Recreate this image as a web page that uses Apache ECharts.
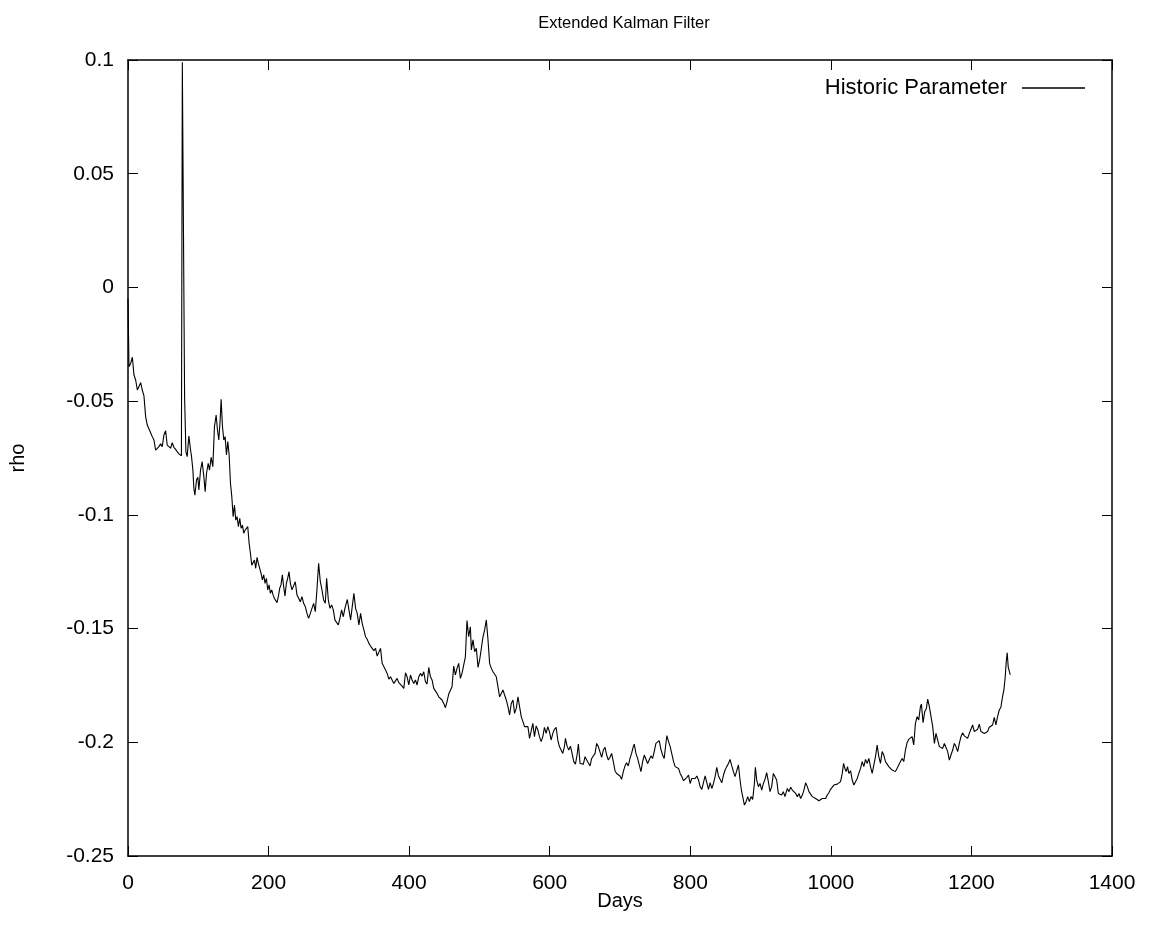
<!DOCTYPE html>
<html>
<head>
<meta charset="utf-8">
<script src="https://cdn.jsdelivr.net/npm/echarts@6/dist/echarts.min.js"></script>
<style>html,body{margin:0;padding:0;background:#fff;}#c{width:1149px;height:942px;}</style>
</head>
<body>
<div id="c"></div>
<script>
const TITLE = 'Extended Kalman Filter';
const X_NAME = 'Days';
const Y_NAME = 'rho';
const SERIES_NAME = 'Historic Parameter';
const X_TICKS = [0, 200, 400, 600, 800, 1000, 1200, 1400];
const Y_TICKS = [-0.25, -0.2, -0.15, -0.1, -0.05, 0, 0.05, 0.1];

const DAYS = [
0,1.4,3.8,6.2,8.5,10.9,13.3,15.6,18,20.3,22.7,25.1,27.4,29.8,32.2,34.5,36.9,39.3,41.6,44,46.4,48.7,51.1,53.5,55.8,58.2,60.6,62.9,65.3,67.7,70,72.4,74.8,76,77.3,80.5,82.4,84.2,86.6,89,90.4,92.3,93.7,95.1,97.5,99.4,100.8,103.2,105.5,107.9,109.8,111.7,114.1,116,118.3,120.7,123,125.4,127.3,129.2,131.1,132.5,134.4,136.3,138.2,140.1,142,143.9,145.8,147.7,149.6,151.5,153.3,155.2,157.1,159,160.9,162.8,164.7,166.6,168.5,170.4,172.3,174.2,176.1,178,179.9,181.7,183.6,185.5,187.4,189.3,191.2,193.1,195,196.9,198.8,200.7,202.6,204.5,206.4,208.2,210.1,212,213.9,215.8,217.7,219.6,221.5,223.4,225.3,227.2,229.1,231,233.3,235.7,238,240.4,242.8,245.2,247.5,249.9,252.3,254.6,257,259.4,261.7,264.1,266.5,268.8,271.2,273.6,276,278.3,280.7,
282.6,285,287.3,289.7,292.1,294.4,296.8,299.2,301.5,303.9,306.3,308.6,312,314.3,316.7,319.1,321.4,323.8,326.1,328.5,330.9,333.2,335.6,338,340.3,342.7,345.1,347.4,349.8,352.2,354.5,356.9,359.3,361.6,364,366.4,368.7,371.1,373.5,375.8,378.2,380.6,382.9,385.3,387.7,390,392.4,394.8,397.1,399.5,401.9,404.2,406.6,409,411.3,413.7,416.1,418.4,420.8,423.2,425.5,427.9,430.3,432.6,435,437.4,439.7,442.1,444.5,446.8,449.2,451.6,453.9,456.3,458.7,461,463.4,465.8,468.1,470.5,472.9,475.2,477.6,480,482.3,484.7,487.1,488.5,490.9,493.2,495.6,498,500.3,502.7,505.1,507.4,509.8,512.2,514.5,516.9,519.3,521.6,524,526.4,528.7,531.1,533.5,535.8,538.2,540.6,542.9,545.3,547.7,550,552.4,554.8,557.1,559.5,561.9,564.2,566.6,569,571.3,573.7,
576,578.3,580.7,583.1,585.4,587.8,590.2,592.5,594.9,597.3,599.6,602,604.4,606.7,609.1,611.5,613.8,616.2,618.6,620.9,622.4,624.7,627.1,629.5,631.8,634.2,636.6,638.9,640.8,643.2,645.5,647.9,650.3,652.6,655,657.4,659.7,662.1,664.5,666.8,669.2,671.6,673.9,676.3,678.7,681,683.4,685.8,688.1,690.5,692.9,695.2,697.6,700,702.3,704.7,707.1,709.4,711.8,714.2,716.5,718.9,720.3,722.7,725.1,727.4,729.8,732.2,734.5,736.9,739.3,741.6,744,746.4,748.7,751.1,753.5,755.8,758.2,760.6,762.9,765.3,766.7,769.1,771.4,773.8,776.2,778.5,780.9,783.3,785.6,788,790.4,792.7,795.1,797.5,799.8,802.2,804.6,806.9,809.3,811.7,814,816.4,818.8,821.1,823.5,825.9,828.2,830.6,833,835.3,837.7,840.1,842.4,844.8,847.2,849.5,851.9,854.3,856.6,859,861.4,863.7,866.1,868.5,870.8,872.7,874.6,877,879.4,881.7,884.1,886.5,888.8,891.2,892.6,894.5,896.9,899.2,901.6,904,906.3,908.7,911.1,913.4,915.8,918.2,920.5,922.9,925.3,927.6,930,932.4,934.7,
938.1,940.4,942.8,945.2,947.5,949.9,952.3,954.6,957,959.4,961.7,964.1,966.5,968.8,971.2,973.6,975.9,978.3,980.7,983,985.4,987.8,990.1,992.5,994.9,997.2,999.6,1002,1004.3,1006.7,1009.1,1011.4,1013.8,1016.2,1018.1,1020,1021.8,1023.7,1025.6,1028,1030.4,1032.7,1035.1,1037.5,1039.8,1042.2,1044.6,1046.9,1049.3,1051.7,1054,1056.4,1058.8,1061.1,1063.5,1065.9,1068.2,1070.6,1073,1075.3,1077.7,1080.1,1082.4,1084.8,1087.2,1089.5,1091.9,1094.3,1096.6,1099,1101.4,1103.7,1106.1,1108.5,1110.8,1113.2,1115.6,1117.9,1120.3,1122.7,1125,1127.4,1128.8,1131.2,1133.5,1135.9,1137.8,1140.2,1142.5,1144.9,1147.3,1149.6,1152,1154.4,1156.7,1159.1,1161.5,1163.8,1166.2,1168.6,1170.9,1173.3,1175.7,1178,1180.4,1182.8,1185.1,1187.5,1189.9,1192.2,1194.6,1197,1199.3,1201.7,1204.1,1206.4,1208.8,1211.2,1213.5,1215.9,1218.3,1220.6,1223,1225.4,1227.7,1230.1,1232.5,1234.8,1237.2,1239.6,1241.9,1244.3,1246.2,1248.1,1249.5,1250.9,1252.3,1253.7,1255.2
];

const RHO = [
-0.0050,-0.0349,-0.0334,-0.0307,-0.0385,-0.0407,-0.0451,-0.0444,-0.0419,-0.0451,-0.0477,-0.0568,-0.0605,-0.0612,-0.0639,-0.0656,-0.0671,-0.0715,-0.0718,-0.0700,-0.0688,-0.0700,-0.0649,-0.0630,-0.0693,-0.0700,-0.0707,-0.0683,-0.0703,-0.0712,-0.0722,-0.0732,-0.0737,-0.0740,0.0990,-0.0480,-0.0722,-0.0744,-0.0653,-0.0715,-0.0744,-0.0803,-0.0883,-0.0913,-0.0847,-0.0835,-0.0891,-0.0803,-0.0766,-0.0832,-0.0898,-0.0817,-0.0773,-0.0803,-0.0747,-0.0788,-0.0612,-0.0561,-0.0627,-0.0671,-0.0583,-0.0492,-0.0612,-0.0671,-0.0656,-0.0737,-0.0678,-0.0737,-0.0861,-0.0920,-0.1008,-0.0957,-0.1023,-0.1008,-0.1052,-0.1015,-0.1059,-0.1045,-0.1081,-0.1067,-0.1059,-0.1052,-0.1125,-0.1170,-0.1221,-0.1228,-0.1199,-0.1235,-0.1187,-0.1213,-0.1206,-0.1257,-0.1286,-0.1264,-0.1301,-0.1279,-0.1330,-0.1308,-0.1345,-0.1330,-0.1352,-0.1367,-0.1367,-0.1386,-0.1360,-0.1323,-0.1308,-0.1264,-0.1316,-0.1357,-0.1301,-0.1279,-0.1250,-0.1301,-0.1330,-0.1330,-0.1294,-0.1352,-0.1367,-0.1382,-0.1360,-0.1389,-0.1404,-0.1433,-0.1455,-0.1433,-0.1426,-0.1389,-0.1426,-0.1330,-0.1213,-0.1294,-0.1330,-0.1374,-0.1389,
-0.1279,-0.1374,-0.1411,-0.1396,-0.1418,-0.1462,-0.1470,-0.1484,-0.1455,-0.1418,-0.1448,-0.1411,-0.1372,-0.1418,-0.1462,-0.1470,-0.1345,-0.1411,-0.1433,-0.1484,-0.1433,-0.1477,-0.1506,-0.1536,-0.1547,-0.1565,-0.1577,-0.1583,-0.1597,-0.1587,-0.1621,-0.1624,-0.1587,-0.1653,-0.1660,-0.1682,-0.1697,-0.1722,-0.1712,-0.1704,-0.1741,-0.1748,-0.1719,-0.1738,-0.1734,-0.1753,-0.1763,-0.1694,-0.1712,-0.1748,-0.1704,-0.1726,-0.1741,-0.1726,-0.1748,-0.1712,-0.1697,-0.1709,-0.1690,-0.1734,-0.1744,-0.1671,-0.1712,-0.1726,-0.1763,-0.1770,-0.1785,-0.1800,-0.1807,-0.1814,-0.1829,-0.1848,-0.1821,-0.1788,-0.1792,-0.1756,-0.1665,-0.1704,-0.1675,-0.1653,-0.1719,-0.1697,-0.1704,-0.1624,-0.1465,-0.1536,-0.1492,-0.1594,-0.1550,-0.1602,-0.1587,-0.1671,-0.1638,-0.1646,-0.1536,-0.1506,-0.1462,-0.1550,-0.1653,-0.1675,-0.1690,-0.1682,-0.1712,-0.1756,-0.1800,-0.1785,-0.1770,-0.1792,-0.1814,-0.1843,-0.1880,-0.1829,-0.1814,-0.1873,-0.1851,-0.1800,-0.1843,-0.1887,-0.1909,-0.1931,-0.1939,-0.1931,-0.1983,-0.1983,
-0.1917,-0.1975,-0.1928,-0.1946,-0.1975,-0.1997,-0.1975,-0.1934,-0.1961,-0.1931,-0.1953,-0.1990,-0.1961,-0.1943,-0.1934,-0.1990,-0.2019,-0.2027,-0.2049,-0.2019,-0.1983,-0.2017,-0.2034,-0.2017,-0.2049,-0.2085,-0.2096,-0.2056,-0.2008,-0.2093,-0.2100,-0.2096,-0.2063,-0.2078,-0.2071,-0.2104,-0.2071,-0.2071,-0.2049,-0.2005,-0.2019,-0.2027,-0.2066,-0.2034,-0.2022,-0.2056,-0.2078,-0.2066,-0.2049,-0.2085,-0.2125,-0.2137,-0.2140,-0.2148,-0.2163,-0.2129,-0.2104,-0.2090,-0.2104,-0.2071,-0.2049,-0.2019,-0.2008,-0.2049,-0.2071,-0.2063,-0.2129,-0.2085,-0.2056,-0.2063,-0.2093,-0.2085,-0.2060,-0.2071,-0.2041,-0.2005,-0.2012,-0.1993,-0.2031,-0.2056,-0.2071,-0.2005,-0.1971,-0.1997,-0.2019,-0.2012,-0.2085,-0.2107,-0.2100,-0.2115,-0.2137,-0.2151,-0.2169,-0.2166,-0.2154,-0.2144,-0.2181,-0.2159,-0.2151,-0.2159,-0.2148,-0.2166,-0.2195,-0.2207,-0.2210,-0.2148,-0.2154,-0.2207,-0.2178,-0.2203,-0.2181,-0.2151,-0.2110,-0.2148,-0.2163,-0.2178,-0.2144,-0.2122,-0.2107,-0.2093,-0.2075,-0.2104,-0.2129,-0.2151,-0.2125,-0.2100,-0.2166,-0.2210,-0.2239,-0.2276,-0.2261,-0.2239,-0.2261,-0.2239,-0.2251,-0.2181,-0.2110,-0.2166,-0.2195,-0.2181,-0.2210,-0.2181,-0.2163,-0.2133,-0.2173,-0.2217,-0.2195,-0.2137,-0.2129,-0.2166,-0.2225,-0.2217,-0.2232,-0.2217,-0.2239,
-0.2203,-0.2217,-0.2198,-0.2210,-0.2203,-0.2225,-0.2239,-0.2225,-0.2247,-0.2232,-0.2210,-0.2178,-0.2195,-0.2217,-0.2225,-0.2239,-0.2236,-0.2247,-0.2254,-0.2257,-0.2251,-0.2247,-0.2254,-0.2247,-0.2232,-0.2222,-0.2207,-0.2203,-0.2188,-0.2195,-0.2184,-0.2188,-0.2173,-0.2137,-0.2093,-0.2115,-0.2129,-0.2107,-0.2137,-0.2125,-0.2166,-0.2188,-0.2188,-0.2159,-0.2137,-0.2115,-0.2085,-0.2107,-0.2075,-0.2093,-0.2071,-0.2107,-0.2137,-0.2100,-0.2063,-0.2012,-0.2063,-0.2093,-0.2041,-0.2056,-0.2085,-0.2096,-0.2107,-0.2115,-0.2122,-0.2115,-0.2129,-0.2122,-0.2100,-0.2085,-0.2071,-0.2085,-0.2034,-0.2002,-0.1987,-0.1993,-0.1975,-0.2012,-0.1917,-0.1887,-0.1902,-0.1844,-0.1832,-0.1914,-0.1866,-0.1851,-0.1810,-0.1844,-0.1887,-0.1931,-0.2005,-0.1961,-0.1990,-0.2019,-0.2012,-0.2027,-0.2005,-0.2002,-0.2041,-0.2078,-0.2056,-0.2034,-0.2005,-0.2019,-0.2041,-0.2005,-0.1975,-0.1958,-0.1972,-0.1964,-0.1983,-0.1961,-0.1943,-0.1924,-0.1953,-0.1961,-0.1943,-0.1920,-0.1953,-0.1946,-0.1961,-0.1968,-0.1953,-0.1934,-0.1928,-0.1924,-0.1890,-0.1924,-0.1887,-0.1858,-0.1846,-0.1799,-0.1770,-0.1712,-0.1646,-0.1606,-0.1668,-0.1675,-0.1704
];

const FONT = "'Liberation Sans', Arial, Helvetica, sans-serif";
const chart = echarts.init(document.getElementById('c'), null, {renderer: 'canvas'});
const data = DAYS.map((d, i) => [d, RHO[i]]);
const fmtY = v => String(Math.round(v * 100) / 100);
const fmtX = v => String(Math.round(v));

const xBase = {
  type: 'value', min: X_TICKS[0], max: X_TICKS[X_TICKS.length - 1], interval: 200,
  splitLine: {show: false},
  axisLine: {show: true, onZero: false, lineStyle: {color: '#000', width: 1.5}},
  axisTick: {show: true, inside: true, length: 10, lineStyle: {color: '#000', width: 1}},
};
const yBase = {
  type: 'value', min: Y_TICKS[0], max: Y_TICKS[Y_TICKS.length - 1], interval: 0.05,
  splitLine: {show: false},
  axisLine: {show: true, onZero: false, lineStyle: {color: '#000', width: 1.5}},
  axisTick: {show: true, inside: true, length: 10, lineStyle: {color: '#000', width: 1}},
};

chart.setOption({
  animation: false,
  backgroundColor: '#fff',
  title: {
    text: TITLE, left: 619, top: 10, textAlign: 'center',
    textStyle: {fontFamily: FONT, fontSize: 16.5, fontWeight: 'normal', color: '#000'}
  },
  legend: {
    right: 59, top: 72, align: 'right', icon: 'rect', itemWidth: 63, itemHeight: 1.5,
    data: [SERIES_NAME],
    textStyle: {fontFamily: FONT, fontSize: 22, color: '#000', padding: [0, 10, 0, 0]},
    itemStyle: {color: '#000'}
  },
  grid: {left: 125, right: 37, top: 60, bottom: 86, containLabel: false},
  xAxis: [
    Object.assign({}, xBase, {
      position: 'bottom', name: X_NAME, nameLocation: 'middle', nameGap: 35, nameMoveOverlap: false,
      nameTextStyle: {fontFamily: FONT, fontSize: 20, color: '#000'},
      axisLabel: {show: true, margin: 17, fontFamily: FONT, fontSize: 21, color: '#000', formatter: fmtX}
    }),
    Object.assign({}, xBase, {position: 'top', axisLabel: {show: false}})
  ],
  yAxis: [
    Object.assign({}, yBase, {
      position: 'left', name: Y_NAME, nameLocation: 'middle', nameRotate: 90, nameGap: 100,
      nameTextStyle: {fontFamily: FONT, fontSize: 20, color: '#000'},
      axisLabel: {show: true, margin: 14, fontFamily: FONT, fontSize: 21, color: '#000', formatter: fmtY}
    }),
    Object.assign({}, yBase, {position: 'right', axisLabel: {show: false}})
  ],
  series: [{
    name: SERIES_NAME, type: 'line', xAxisIndex: 0, yAxisIndex: 0,
    data: data, showSymbol: false, symbol: 'none',
    lineStyle: {color: '#000', width: 1.1}, itemStyle: {color: '#000'}
  }]
});
</script>
</body>
</html>
